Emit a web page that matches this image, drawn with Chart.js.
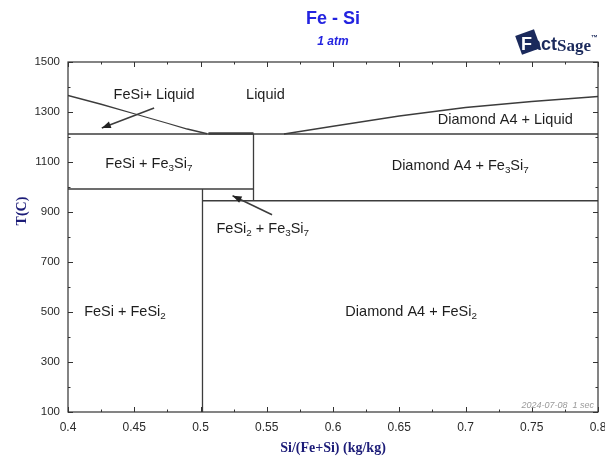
<!DOCTYPE html>
<html>
<head>
<meta charset="utf-8">
<script src="https://cdn.jsdelivr.net/npm/chart.js@4.4.1/dist/chart.umd.min.js"></script>
<style>
  html, body { margin: 0; padding: 0; background: #fff; }
</style>
</head>
<body>
<canvas id="phase-chart" width="605" height="459"></canvas>
<script>
// axis ranges / ticks
const xMin = 0.4, xMax = 0.8, xStep = 0.05;
const yMin = 100, yMax = 1500, yStep = 200;

// phase boundaries (Si mass fraction, T in C)
const leftLiquidusSi = [0.4, 0.425, 0.45, 0.475, 0.49, 0.505];
const leftLiquidusT = [1366, 1331, 1293, 1255, 1232, 1213];
const rightLiquidusSi = [0.563, 0.6, 0.65, 0.7, 0.75, 0.8];
const rightLiquidusT = [1212, 1243, 1284, 1318, 1342, 1362];
const eutecticSi = [0.4, 0.8];
const eutecticT = [1212, 1212];
const fe3si7MeltSi = [0.506, 0.54];
const fe3si7MeltT = [1214, 1214];
const fe3si7LowSi = [0.4, 0.54];
const fe3si7LowT = [992, 992];
const fe3si7Si = [0.54, 0.54];
const fe3si7T = [1212, 945];
const fesi2EutectoidSi = [0.5015, 0.8];
const fesi2EutectoidT = [945, 945];
const fesi2Si = [0.5015, 0.5015];
const fesi2T = [992, 100];

// label arrows: [from, to]
const arrow1Si = [0.465, 0.4255];
const arrow1T = [1316, 1236];
const arrow2Si = [0.554, 0.5242];
const arrow2T = [889, 965];

// region labels ("_n" = subscript)
const labelTexts = ["FeSi+ Liquid", "Liquid", "Diamond A4 + Liquid", "FeSi + Fe_3Si_7",
  "Diamond A4 + Fe_3Si_7", "FeSi_2 + Fe_3Si_7", "FeSi + FeSi_2", "Diamond A4 + FeSi_2"];
const labelSi = [0.465, 0.549, 0.730, 0.461, 0.696, 0.547, 0.443, 0.659];
const labelT = [1368, 1368, 1268, 1094, 1086, 834, 502, 502];

const lineColor = "#3c3c3c";
const toPts = (xs, ys) => xs.map((x, i) => ({ x: x, y: ys[i] }));

const boundary = (xs, ys, w) => ({
  data: toPts(xs, ys),
  showLine: true,
  borderColor: lineColor,
  borderWidth: w || 1.3,
  pointRadius: 0,
  tension: 0
});

const datasets = [
  boundary(leftLiquidusSi, leftLiquidusT),
  boundary(rightLiquidusSi, rightLiquidusT),
  boundary(eutecticSi, eutecticT),
  boundary(fe3si7MeltSi, fe3si7MeltT, 2.6),
  boundary(fe3si7LowSi, fe3si7LowT),
  boundary(fe3si7Si, fe3si7T),
  boundary(fesi2EutectoidSi, fesi2EutectoidT),
  boundary(fesi2Si, fesi2T),
  boundary(arrow1Si, arrow1T, 1.5),
  boundary(arrow2Si, arrow2T, 1.5)
];

const drawRichText = (ctx, text, cx, cy, size) => {
  const parts = text.split(/(_\d)/).filter((p) => p.length);
  const normal = size + "px 'Liberation Sans', Arial, sans-serif";
  const small = (size * 0.68) + "px 'Liberation Sans', Arial, sans-serif";
  let total = 0;
  parts.forEach((p) => {
    ctx.font = p[0] === "_" ? small : normal;
    total += ctx.measureText(p[0] === "_" ? p.slice(1) : p).width;
  });
  let x = cx - total / 2;
  ctx.textAlign = "left";
  ctx.textBaseline = "middle";
  parts.forEach((p) => {
    const sub = p[0] === "_";
    const s = sub ? p.slice(1) : p;
    ctx.font = sub ? small : normal;
    ctx.fillText(s, x, sub ? cy + size * 0.3 : cy);
    x += ctx.measureText(s).width;
  });
};

const decorPlugin = {
  id: "decor",
  afterDatasetsDraw(chart) {
    const { ctx, chartArea: a, scales } = chart;
    const xs = scales.x, ys = scales.y;
    ctx.save();

    // frame
    ctx.strokeStyle = "#333";
    ctx.lineWidth = 1.2;
    ctx.strokeRect(a.left, a.top, a.right - a.left, a.bottom - a.top);

    // inward ticks
    ctx.lineWidth = 1;
    for (let v = xMin; v <= xMax + 1e-9; v += xStep / 2) {
      const px = Math.round(xs.getPixelForValue(v)) + 0.5;
      const major = Math.abs(Math.round(v / xStep) * xStep - v) < 1e-6;
      const len = major ? 5 : 2.5;
      ctx.beginPath();
      ctx.moveTo(px, a.bottom); ctx.lineTo(px, a.bottom - len);
      ctx.moveTo(px, a.top); ctx.lineTo(px, a.top + len);
      ctx.stroke();
    }
    for (let v = yMin; v <= yMax; v += yStep / 2) {
      const py = Math.round(ys.getPixelForValue(v)) + 0.5;
      const major = (v - yMin) % yStep === 0;
      const len = major ? 5 : 2.5;
      ctx.beginPath();
      ctx.moveTo(a.left, py); ctx.lineTo(a.left + len, py);
      ctx.moveTo(a.right, py); ctx.lineTo(a.right - len, py);
      ctx.stroke();
    }

    // arrow heads
    ctx.fillStyle = "#222";
    [[arrow1Si, arrow1T], [arrow2Si, arrow2T]].forEach(([sx, st]) => {
      const x0 = xs.getPixelForValue(sx[0]), y0 = ys.getPixelForValue(st[0]);
      const x1 = xs.getPixelForValue(sx[1]), y1 = ys.getPixelForValue(st[1]);
      const ang = Math.atan2(y1 - y0, x1 - x0);
      const L = 9, W = 3.5;
      ctx.beginPath();
      ctx.moveTo(x1, y1);
      ctx.lineTo(x1 - L * Math.cos(ang) + W * Math.sin(ang), y1 - L * Math.sin(ang) - W * Math.cos(ang));
      ctx.lineTo(x1 - L * Math.cos(ang) - W * Math.sin(ang), y1 - L * Math.sin(ang) + W * Math.cos(ang));
      ctx.closePath();
      ctx.fill();
    });

    // region labels
    ctx.fillStyle = "#1e1e1e";
    labelTexts.forEach((t, i) => {
      drawRichText(ctx, t, xs.getPixelForValue(labelSi[i]), ys.getPixelForValue(labelT[i]), 14.5);
    });

    // stamp
    ctx.fillStyle = "#9a9a9a";
    ctx.font = "italic 9px 'Liberation Sans', Arial, sans-serif";
    ctx.textAlign = "right";
    ctx.textBaseline = "middle";
    ctx.fillText("2024-07-08  1 sec", a.right - 4, a.bottom - 7);

    // titles
    const midX = (a.left + a.right) / 2;
    ctx.fillStyle = "#2323e0";
    ctx.textAlign = "center";
    ctx.font = "bold 18px 'Liberation Sans', Arial, sans-serif";
    ctx.fillText("Fe - Si", midX, 19);
    ctx.font = "italic bold 12px 'Liberation Sans', Arial, sans-serif";
    ctx.fillText("1 atm", midX, 42);

    // axis titles
    ctx.fillStyle = "#1c1c78";
    ctx.font = "bold 14px 'Liberation Serif', 'Times New Roman', serif";
    ctx.fillText("Si/(Fe+Si) (kg/kg)", midX, 448);
    ctx.save();
    ctx.translate(22, 211);
    ctx.rotate(-Math.PI / 2);
    ctx.fillText("T(C)", 0, 0);
    ctx.restore();

    // FactSage mark
    const navy = "#1b2a5c";
    ctx.save();
    ctx.translate(528, 42);
    ctx.rotate(-0.35);
    ctx.fillStyle = navy;
    ctx.fillRect(-10, -10, 20, 20);
    ctx.restore();
    ctx.textAlign = "left";
    ctx.textBaseline = "alphabetic";
    let lx = 521;
    ctx.font = "bold 18px 'Liberation Sans', Arial, sans-serif";
    ctx.fillStyle = "#fff";
    ctx.fillText("F", lx, 50);
    lx += ctx.measureText("F").width - 1;
    ctx.fillStyle = navy;
    ctx.fillText("act", lx, 50);
    lx += ctx.measureText("act").width;
    ctx.font = "bold 17px 'Liberation Serif', serif";
    ctx.fillText("Sage", lx, 51);
    lx += ctx.measureText("Sage").width;
    ctx.font = "bold 7px 'Liberation Sans', Arial, sans-serif";
    ctx.fillText("\u2122", lx, 40);
    ctx.restore();
  }
};

const ctx = document.getElementById("phase-chart").getContext("2d");
new Chart(ctx, {
  type: "scatter",
  data: { datasets: datasets },
  options: {
    responsive: false,
    animation: false,
    layout: { padding: { left: 0, right: 7, top: 62, bottom: 0 } },
    plugins: { legend: { display: false }, tooltip: { enabled: false } },
    scales: {
      x: {
        type: "linear",
        min: xMin,
        max: xMax,
        grid: { display: false },
        border: { display: false },
        ticks: {
          stepSize: xStep,
          padding: 0,
          color: "#2a2a2a",
          font: { family: "'Liberation Sans', Arial, sans-serif", size: 12 },
          callback: (v) => String(Math.round(v * 100) / 100)
        },
        afterFit: (s) => { s.height = 47; s.paddingLeft = 0; s.paddingRight = 0; }
      },
      y: {
        type: "linear",
        min: yMin,
        max: yMax,
        grid: { display: false },
        border: { display: false },
        ticks: {
          stepSize: yStep,
          padding: 0,
          color: "#2a2a2a",
          font: { family: "'Liberation Sans', Arial, sans-serif", size: 11.5 },
          callback: (v) => String(v)
        },
        afterFit: (s) => { s.width = 68; s.paddingTop = 0; s.paddingBottom = 0; }
      }
    }
  },
  plugins: [decorPlugin]
});
</script>
</body>
</html>
